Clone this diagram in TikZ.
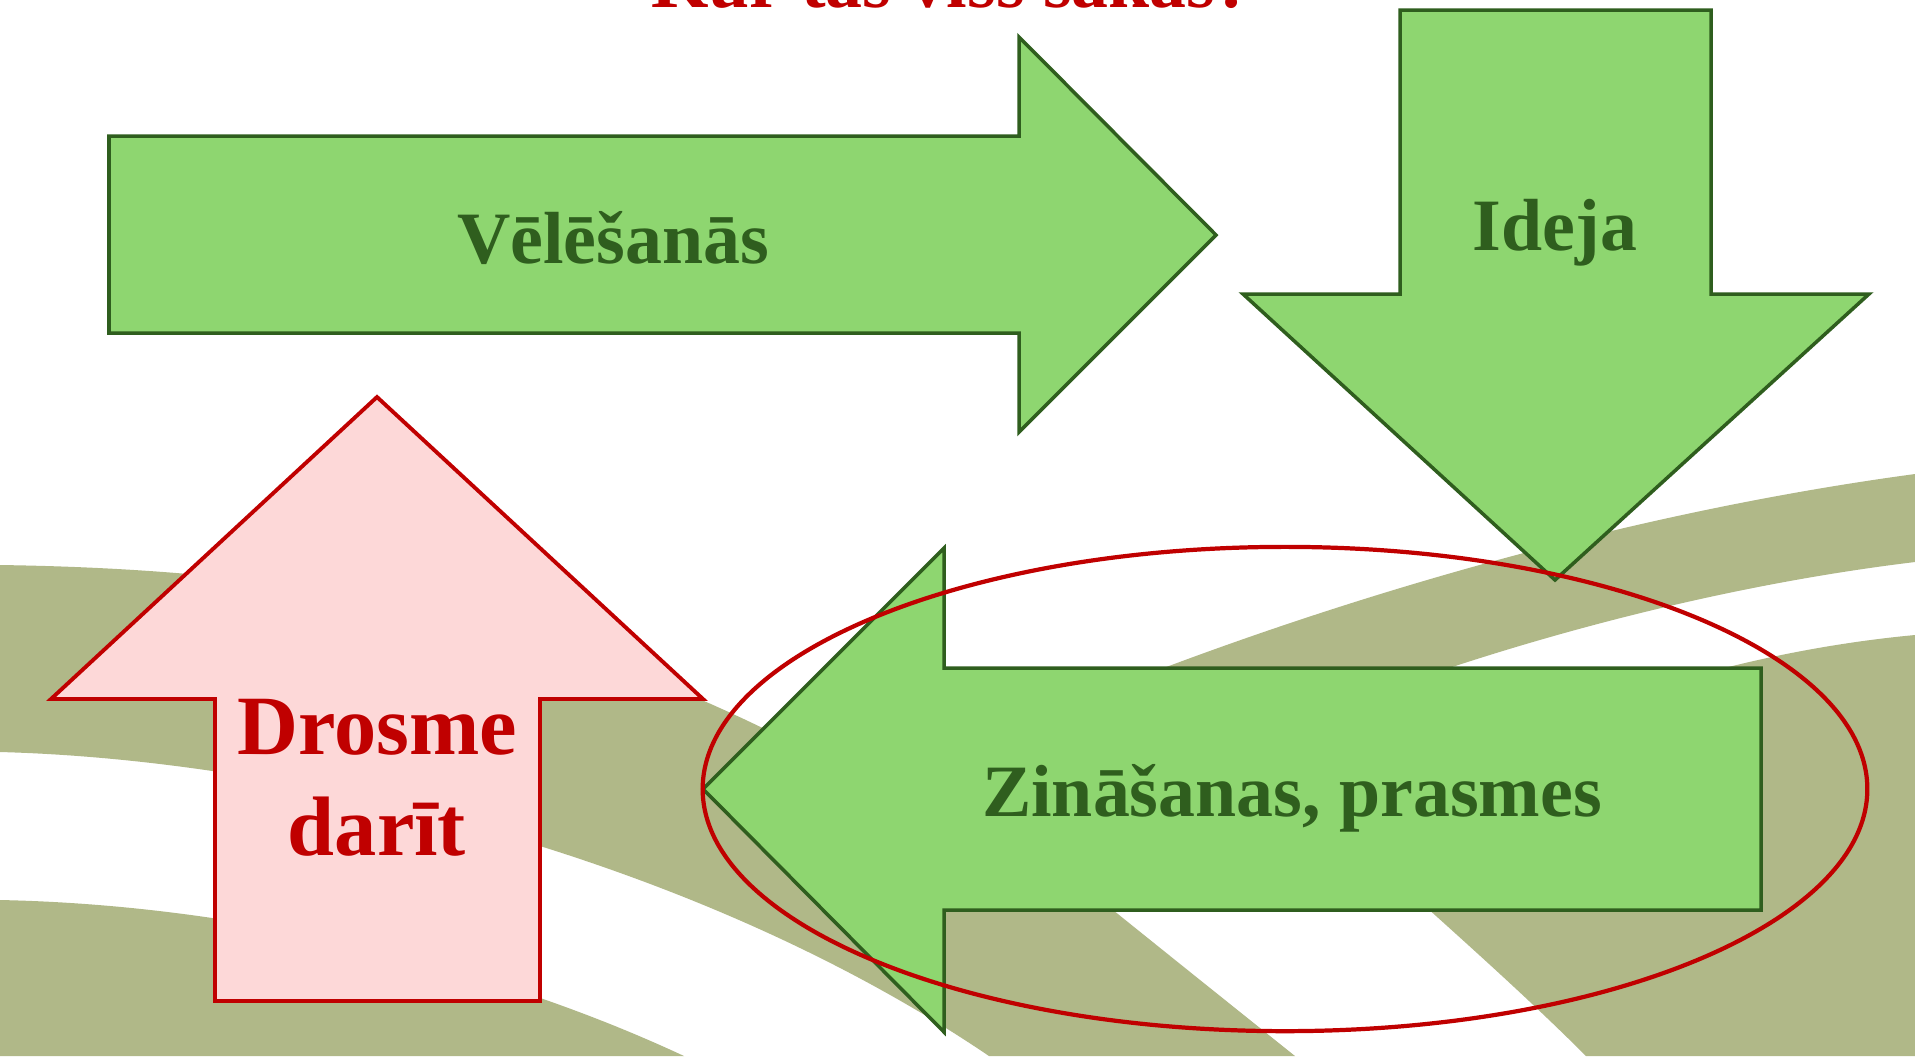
\documentclass[tikz,border=0pt]{standalone}
\usepackage{fontspec}
\setmainfont{Liberation Serif}
\definecolor{leafgreen}{RGB}{142,214,112}
\definecolor{darkleaf}{RGB}{47,94,30}
\definecolor{blush}{RGB}{253,216,216}
\definecolor{brickred}{RGB}{192,0,0}
\definecolor{swoosh}{RGB}{176,184,136}
\tikzset{
  band/.style={fill=swoosh,draw=none},
  green arrow/.style={draw=darkleaf,fill=leafgreen,line width=1pt,line join=miter},
  pink arrow/.style={draw=brickred,fill=blush,line width=1.1pt,line join=miter},
  ring/.style={draw=brickred,line width=1.2pt},
  green label/.style={text=darkleaf,anchor=base,
    font=\fontsize{21}{25}\selectfont\bfseries},
  red label/.style={text=brickred,anchor=base,
    font=\fontsize{24}{29}\selectfont\bfseries},
  heading/.style={text=brickred,anchor=base,
    font=\fontsize{21}{25}\selectfont\bfseries}
}

\begin{document}
\begin{tikzpicture}[x=0.01cm,y=-0.01cm]
  \useasboundingbox (0,0) rectangle (1915,1056);
  \fill[white] (0,0) rectangle (1915,1056);

  % background swooshes
  \fill[band] (0,900) .. controls (250,905) and (500,970) .. (684,1056)
    -- (0,1056) -- cycle;
  \fill[band] (0,565) .. controls (350,570) and (600,630) .. (880,790)
    .. controls (1100,680) and (1500,530) .. (1915,474)
    -- (1915,562)
    .. controls (1600,600) and (1250,720) .. (1040,851)
    .. controls (1125,920) and (1210,988) .. (1295,1056)
    -- (989,1056)
    .. controls (700,860) and (300,760) .. (0,752) -- cycle;
  \fill[band] (1915,635) .. controls (1700,655) and (1450,740) .. (1374,860)
    .. controls (1440,920) and (1520,990) .. (1586,1056)
    -- (1915,1056) -- cycle;

  % block arrows
  \draw[green arrow] (109,136) -- (1019,136) -- (1019,37) -- (1216,235)
    -- (1019,432) -- (1019,333) -- (109,333) -- cycle;
  \draw[green arrow] (1400,10) -- (1711,10) -- (1711,294) -- (1869,294)
    -- (1555,580) -- (1243,294) -- (1400,294) -- cycle;
  \draw[green arrow] (1761,668) -- (944,668) -- (944,548) -- (703,789)
    -- (944,1032) -- (944,910) -- (1761,910) -- cycle;
  \draw[pink arrow] (377,397) -- (703,699) -- (540,699) -- (540,1001)
    -- (215,1001) -- (215,699) -- (51,699) -- cycle;

  \node[heading] (title) at (952,7) {Kur tas viss sākas?};
  \node[green label] (wish) at (613,263) {Vēlēšanās};
  \node[green label] (idea) at (1555,250) {Ideja};
  \node[green label] (skills) at (1292,816) {Zināšanas, prasmes};
  \node[red label] (courage) at (377,754) {Drosme};
  \node[red label] (todo) at (377,855) {darīt};

  \draw[ring] (1285,789) ellipse [x radius=5.82cm,y radius=2.42cm];
\end{tikzpicture}
\end{document}
